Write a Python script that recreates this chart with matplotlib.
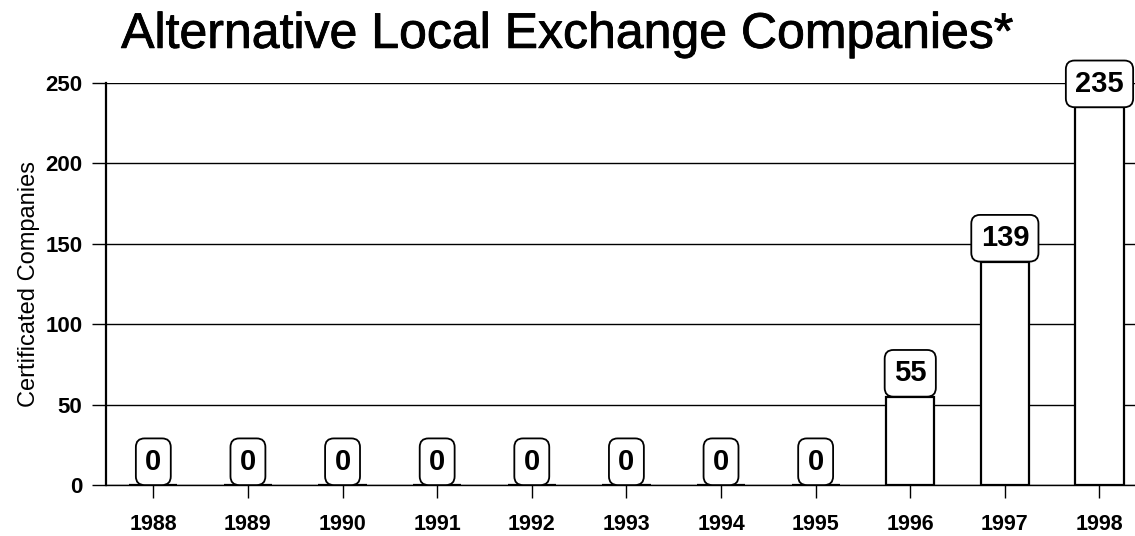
import matplotlib.pyplot as plt
import matplotlib.patheffects as pe

years = ['1988', '1989', '1990', '1991', '1992', '1993', '1994', '1995', '1996', '1997', '1998']
companies = [0, 0, 0, 0, 0, 0, 0, 0, 55, 139, 235]
y_ticks = [0, 50, 100, 150, 200, 250]

plt.rcParams['font.family'] = ['Liberation Sans', 'DejaVu Sans']

fig = plt.figure(figsize=(11.35, 5.36), dpi=100)
ax = fig.add_axes([0.0934, 0.095, 0.917, 0.75])

x = range(len(years))
ax.set_axisbelow(True)
ax.yaxis.grid(True, color='black', linewidth=1)
ax.bar(x, companies, width=0.51, color='white', edgecolor='black', linewidth=1.6, zorder=2)

# value labels in small boxes sitting on top of each bar
pad = 0.32
fs = 21
for xi, v in zip(x, companies):
    ax.annotate(str(v), (xi, v), xytext=(0, pad * fs), textcoords='offset points',
                ha='center', va='bottom', fontsize=fs, fontweight='bold', zorder=4,
                bbox=dict(boxstyle=f'round,pad={pad},rounding_size=0.3',
                          facecolor='white', edgecolor='black', linewidth=1.3))

ax.set_xlim(-0.5, len(years) - 0.5)
ax.set_ylim(0, 250)
ax.set_xticks(list(x))
ax.set_xticklabels(years, fontsize=15.5, fontweight='bold')
ax.set_yticks(y_ticks)
ax.set_yticklabels([str(t) for t in y_ticks], fontsize=16, fontweight='bold')
ax.tick_params(axis='x', length=9, width=1, pad=12)
ax.tick_params(axis='y', length=10, width=1, pad=7)
ax.set_ylabel('Certificated Companies', fontsize=17, labelpad=4)

for side in ['top', 'right']:
    ax.spines[side].set_visible(False)
ax.spines['left'].set_linewidth(1.6)
ax.spines['bottom'].set_linewidth(1)

title = fig.text(0.5, 0.935, 'Alternative Local Exchange Companies*', ha='center', va='center', fontsize=36)
title.set_path_effects([pe.withStroke(linewidth=0.6, foreground='black')])

plt.savefig('out.png', dpi=100)
